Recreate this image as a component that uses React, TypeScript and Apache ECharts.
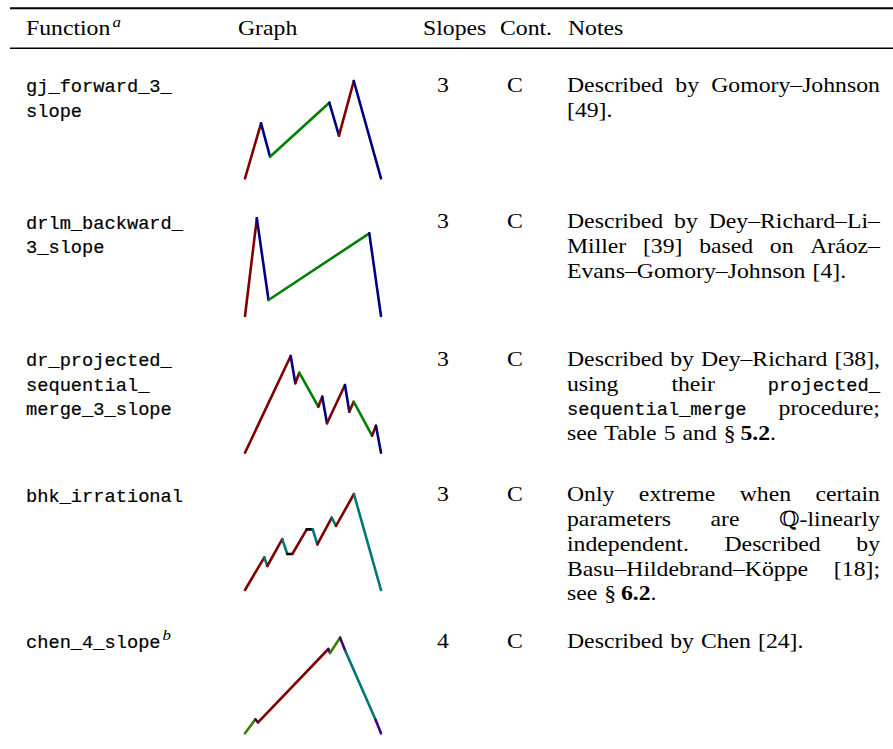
import React, { useEffect, useRef } from "react";
import * as echarts from "echarts";

// ---------- data ----------
const headers = ["Function", "Graph", "Slopes", "Cont.", "Notes"];
const functionNames = [
  ["gj_forward_3_", "slope"],
  ["drlm_backward_", "3_slope"],
  ["dr_projected_", "sequential_", "merge_3_slope"],
  ["bhk_irrational"],
  ["chen_4_slope"],
];
const slopeCounts = ["3", "3", "3", "3", "4"];
const continuity = ["C", "C", "C", "C", "C"];
const notes = [
  ["Described by Gomory–Johnson", "[49]."],
  ["Described by Dey–Richard–Li–", "Miller [39] based on Aráoz–", "Evans–Gomory–Johnson [4]."],
  ["Described by Dey–Richard [38],", "using their {tt|projected_}", "{tt|sequential_merge} procedure;", "see Table 5 and §\u2009{bf|5.2}."],
  ["Only extreme when certain", "parameters are ℚ-linearly", "independent. Described by", "Basu–Hildebrand–Köppe [18];", "see §\u2009{bf|6.2}."],
  ["Described by Chen [24]."],
];

// graph breakpoints (x in [0,1], y in [0,1]) and slope class of each segment
const gjX = [0, 0.118, 0.184, 0.62, 0.691, 0.8, 1];
const gjY = [0, 0.565, 0.222, 0.777, 0.438, 1, 0];
const gjSlope = ["r", "b", "g", "b", "r", "b"];

const drlmX = [0, 0.087, 0.173, 0.914, 1];
const drlmY = [0, 1, 0.164, 0.846, 0];
const drlmSlope = ["r", "b", "g", "b"];

const drX = [0, 0.336, 0.37, 0.399, 0.539, 0.568, 0.603, 0.735, 0.767, 0.799, 0.934, 0.963, 1];
const drY = [0, 1, 0.718, 0.827, 0.476, 0.579, 0.304, 0.7, 0.424, 0.527, 0.176, 0.279, 0];
const drSlope = ["r", "b", "r", "g", "r", "b", "r", "b", "r", "g", "r", "b"];

const bhkX = [0, 0.142, 0.164, 0.274, 0.311, 0.348, 0.454, 0.498, 0.532, 0.638, 0.669, 0.801, 1];
const bhkY = [0, 0.34, 0.25, 0.53, 0.375, 0.375, 0.632, 0.632, 0.476, 0.753, 0.667, 1, 0];
const bhkSlope = ["r", "t", "r", "t", "k", "r", "k", "t", "r", "t", "r", "t"];

const chenX = [0, 0.076, 0.096, 0.613, 0.625, 0.699, 0.738, 0.961, 1];
const chenY = [0, 0.146, 0.115, 0.882, 0.84, 1, 0.861, 0.139, 0];
const chenSlope = ["o", "p", "r", "p", "o", "p", "t", "p"];

const graphs = [
  { xs: gjX, ys: gjY, slopes: gjSlope },
  { xs: drlmX, ys: drlmY, slopes: drlmSlope },
  { xs: drX, ys: drY, slopes: drSlope },
  { xs: bhkX, ys: bhkY, slopes: bhkSlope },
  { xs: chenX, ys: chenY, slopes: chenSlope },
];

const slopeColors: Record<string, string> = {
  r: "#800000",
  b: "#000080",
  g: "#008000",
  t: "#007575",
  p: "#400080",
  o: "#408000",
  k: "#000000",
};

// ---------- layout ----------
const SERIF = '"Liberation Serif", "DejaVu Serif", serif';
const MONO = '"Liberation Mono", "DejaVu Sans Mono", monospace';
const SZ = 21;
const SX = 1.13; // horizontal stretch of the serif face to approach Computer Modern widths
const TT = 18.7;
const LINE = 24.7;
const rowBase = [92, 228.5, 366, 501.5, 648];
const graphBottom = [178.3, 316, 452.7, 590, 733.3];
const graphHeight = [97.3, 97.7, 96.7, 96, 95.6];
const GRAPH_LEFT = 245;
const GRAPH_W = 136;
const NOTE_L = 567;
const NOTE_R = 880;
const SPACE = 7;

function fontOf(kind: string, size?: number) {
  if (kind === "tt") return `${size ?? TT}px ${MONO}`;
  if (kind === "bf") return `bold ${size ?? SZ}px ${SERIF}`;
  if (kind === "it") return `italic ${size ?? SZ}px ${SERIF}`;
  return `${size ?? SZ}px ${SERIF}`;
}
function midY(baseline: number, kind: string, size?: number) {
  if (kind === "tt") return baseline - 0.2665 * (size ?? TT);
  return baseline - 0.3375 * (size ?? SZ);
}
function stretchOf(kind: string) {
  return kind === "tt" ? 1 : SX;
}

let ctx: CanvasRenderingContext2D | null = null;
function measure(text: string, kind: string, size?: number) {
  if (!ctx) ctx = document.createElement("canvas").getContext("2d");
  ctx!.font = fontOf(kind, size);
  return ctx!.measureText(text).width * stretchOf(kind);
}

function parseSegs(word: string) {
  const out: { k: string; t: string }[] = [];
  const re = /\{(\w+)\|([^}]*)\}|([^{]+)/g;
  let m: RegExpExecArray | null;
  while ((m = re.exec(word))) {
    if (m[1]) out.push({ k: m[1], t: m[2] });
    else out.push({ k: "rm", t: m[3] });
  }
  return out;
}

function textEl(text: string, x: number, baseline: number, kind: string, align = "left", size?: number) {
  const style: any = {
    text,
    x: 0,
    y: 0,
    font: fontOf(kind, size),
    fill: "#000",
    align,
    textAlign: align,
    verticalAlign: "middle",
    textVerticalAlign: "middle",
  };
  if (kind === "tt") {
    style.stroke = "#000";
    style.lineWidth = 0.2;
  }
  return {
    type: "text",
    silent: true,
    x,
    y: midY(baseline, kind, size),
    scaleX: stretchOf(kind),
    scaleY: 1,
    style,
  };
}

function buildGraphics() {
  const els: any[] = [];
  // rules
  els.push({ type: "rect", silent: true, shape: { x: 10, y: 7.2, width: 883, height: 2 }, style: { fill: "#000" } });
  els.push({ type: "rect", silent: true, shape: { x: 10, y: 47.6, width: 883, height: 1.3 }, style: { fill: "#000" } });

  // headers
  const HB = 35;
  const hx = [26, 238, 423, 500, 568];
  headers.forEach((h, i) => els.push(textEl(h, hx[i], HB, "rm")));
  const fw = measure(headers[0], "rm");
  els.push(textEl("a", hx[0] + fw + 2, HB - 8, "it", "left", 15));

  // rows
  functionNames.forEach((lines, r) => {
    lines.forEach((ln, j) => {
      els.push(textEl(ln, 26, rowBase[r] + j * LINE, "tt"));
    });
    if (r === 4) {
      const w = measure(lines[0], "tt");
      els.push(textEl("b", 26 + w + 2, rowBase[r] - 8, "it", "left", 15));
    }
    els.push(textEl(slopeCounts[r], 443, rowBase[r], "rm", "center"));
    els.push(textEl(continuity[r], 515, rowBase[r], "rm", "center"));

    const nl = notes[r];
    nl.forEach((line, j) => {
      const base = rowBase[r] + j * LINE;
      const words = line.split(" ");
      const segWords = words.map((w) => parseSegs(w));
      const widths = segWords.map((segs) => segs.reduce((s, sg) => s + measure(sg.t, sg.k), 0));
      const total = widths.reduce((a, b) => a + b, 0);
      const justified = j < nl.length - 1 && words.length > 1;
      const gap = justified ? (NOTE_R - NOTE_L - total) / (words.length - 1) : SPACE;
      let x = NOTE_L;
      segWords.forEach((segs, wi) => {
        let sx = x;
        segs.forEach((sg) => {
          els.push(textEl(sg.t, sx, base, sg.k));
          sx += measure(sg.t, sg.k);
        });
        x += widths[wi] + gap;
      });
    });
  });
  return els;
}

export default function App() {
  const ref = useRef<HTMLDivElement>(null);
  useEffect(() => {
    if (!ref.current) return;
    const chart = echarts.init(ref.current, null, { renderer: "svg" });
    const grid: any[] = [];
    const xAxis: any[] = [];
    const yAxis: any[] = [];
    const series: any[] = [];
    graphs.forEach((g, i) => {
      grid.push({
        left: GRAPH_LEFT,
        top: graphBottom[i] - graphHeight[i],
        width: GRAPH_W,
        height: graphHeight[i],
        containLabel: false,
      });
      xAxis.push({ gridIndex: i, type: "value", min: 0, max: 1, show: false });
      yAxis.push({ gridIndex: i, type: "value", min: 0, max: 1, show: false });
      for (let s = 0; s < g.xs.length - 1; s++) {
        series.push({
          type: "line",
          xAxisIndex: i,
          yAxisIndex: i,
          data: [
            [g.xs[s], g.ys[s]],
            [g.xs[s + 1], g.ys[s + 1]],
          ],
          symbol: "none",
          clip: false,
          silent: true,
          lineStyle: { color: slopeColors[g.slopes[s]], width: 2.6, cap: "round" },
        });
      }
    });
    chart.setOption({
      animation: false,
      backgroundColor: "#ffffff",
      grid,
      xAxis,
      yAxis,
      series,
      graphic: { elements: buildGraphics() },
    });
    return () => chart.dispose();
  }, []);
  return (
    <div
      ref={ref}
      style={{ width: 893, height: 749, position: "absolute", left: 0, top: 0, background: "#fff" }}
    />
  );
}
